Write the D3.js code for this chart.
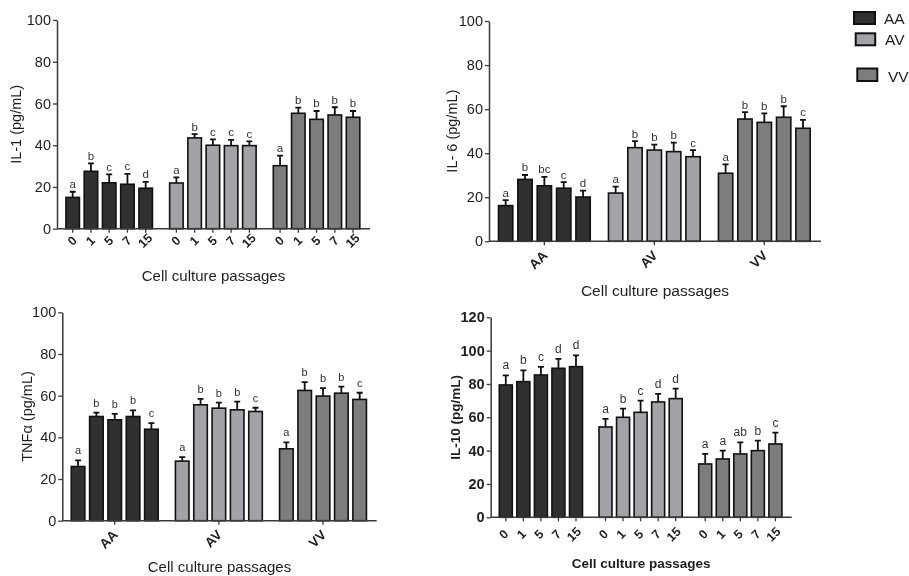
<!DOCTYPE html>
<html>
<head>
<meta charset="utf-8">
<script src="https://cdn.jsdelivr.net/npm/d3@7"></script>
<style>
  html, body { margin: 0; padding: 0; background: #fff; }
  svg { display: block; font-family: "Liberation Sans", Arial, Helvetica, sans-serif; will-change: transform; }
</style>
</head>
<body>
<svg id="chart" width="909" height="576"></svg>
<script>
// ---- data ---------------------------------------------------------------
const groups = ["AA", "AV", "VV"];
const passages = ["0", "1", "5", "7", "15"];
const groupColors = ["#303030", "#a3a3a7", "#7d7d7d"];

const ticks100 = [0, 20, 40, 60, 80, 100];
const ticks120 = [0, 20, 40, 60, 80, 100, 120];

// IL-1 (pg/mL): mean, SD (upper bar), significance letters; rows = AA, AV, VV
const il1Mean = [[15.0, 27.5, 22.0, 21.3, 19.4], [21.9, 43.5, 40.0, 39.8, 39.8], [30.2, 55.3, 52.4, 54.5, 53.4]];
const il1Err  = [[2.7, 3.8, 4.0, 5.0, 3.0], [2.7, 1.8, 2.8, 2.8, 2.0], [4.8, 2.7, 4.0, 3.7, 3.0]];
const il1Letters = [["a", "b", "c", "c", "d"], ["a", "b", "c", "c", "c"], ["a", "b", "b", "b", "b"]];

// IL-6 (pg/mL)
const il6Mean = [[16.2, 28.1, 25.2, 24.1, 20.1], [21.9, 42.5, 41.4, 40.7, 38.4], [30.9, 55.5, 54.0, 56.3, 51.3]];
const il6Err  = [[2.5, 2.0, 4.0, 2.8, 2.9], [2.9, 3.0, 2.5, 4.1, 3.0], [4.0, 3.1, 4.1, 5.0, 3.8]];
const il6Letters = [["a", "b", "bc", "c", "d"], ["a", "b", "b", "b", "c"], ["a", "b", "b", "b", "c"]];

// TNFα (pg/mL)
const tnfMean = [[26.0, 50.0, 48.4, 50.0, 43.9], [28.6, 55.6, 54.0, 53.2, 52.4], [34.5, 62.5, 59.8, 61.2, 58.2]];
const tnfErr  = [[2.9, 1.9, 2.9, 2.9, 2.9], [1.9, 2.9, 2.7, 3.9, 1.8], [3.1, 4.0, 3.8, 3.1, 3.2]];
const tnfLetters = [["a", "b", "b", "b", "c"], ["a", "b", "b", "b", "c"], ["a", "b", "b", "b", "c"]];

// IL-10 (pg/mL)
const il10Mean = [[79.4, 81.4, 85.4, 89.4, 90.4], [54.2, 60.0, 63.0, 69.2, 71.2], [32.0, 35.0, 38.0, 40.0, 44.0]];
const il10Err  = [[5.8, 6.8, 4.8, 5.6, 6.8], [4.8, 5.2, 7.0, 4.8, 6.0], [6.0, 5.0, 7.0, 6.0, 6.8]];
const il10Letters = [["a", "b", "c", "d", "d"], ["a", "b", "c", "d", "d"], ["a", "a", "ab", "b", "c"]];

// ---- panel layout -------------------------------------------------------
const panels = [
  { mean: il1Mean, err: il1Err, letters: il1Letters, yMax: 100, yTicks: ticks100,
    yTitle: "IL-1 (pg/mL)", xTitle: "Cell culture passages", xMode: "passages", bold: false,
    x0: 57, x1: 370, yTop: 20, yBase: 228.7, yTitleX: 16, xTitleY: 280.5, xTitleSize: 15,
    letterGap: 3.5, letterSize: 11.5, labelDx: 2.5, labelDy: 15 },
  { mean: il6Mean, err: il6Err, letters: il6Letters, yMax: 100, yTicks: ticks100,
    yTitle: "IL- 6 (pg/mL)", xTitle: "Cell culture passages", xMode: "groups", bold: false,
    x0: 489, x1: 821, yTop: 21, yBase: 241.3, yTitleX: 451.7, xTitleY: 295.5, xTitleSize: 15.5,
    letterGap: 3.5, letterSize: 11.5, labelDx: 4, labelDy: 15 },
  { mean: tnfMean, err: tnfErr, letters: tnfLetters, yMax: 100, yTicks: ticks100,
    yTitle: "TNFα (pg/mL)", xTitle: "Cell culture passages", xMode: "groups", bold: false,
    x0: 62.3, x1: 376.7, yTop: 312.3, yBase: 520.7, yTitleX: 26.7, xTitleY: 572, xTitleSize: 15,
    letterGap: 6, letterSize: 11, labelDx: 4, labelDy: 15 },
  { mean: il10Mean, err: il10Err, letters: il10Letters, yMax: 120, yTicks: ticks120,
    yTitle: "IL-10 (pg/mL)", xTitle: "Cell culture passages", xMode: "passages", bold: true,
    x0: 490.7, x1: 791.7, yTop: 317.3, yBase: 517.3, yTitleX: 455, xTitleY: 567.5, xTitleSize: 13.5,
    letterGap: 6, letterSize: 12, labelDx: 1, labelDy: 20 }
];

const ink = "#1e1e1e";
const axisInk = "#3a3a3a";
const svg = d3.select("#chart");

panels.forEach(p => {
  const g = svg.append("g");
  const w = p.x1 - p.x0;

  const xGroup = d3.scaleBand().domain(groups)
    .range([p.x0 + 0.021 * w, p.x0 + 0.975 * w])
    .paddingInner(0.12).paddingOuter(0);
  const xBar = d3.scaleBand().domain(passages)
    .range([0, xGroup.bandwidth()])
    .paddingInner(0.26).paddingOuter(0.13);
  const y = d3.scaleLinear().domain([0, p.yMax]).range([p.yBase, p.yTop]);

  const rows = [];
  groups.forEach((grp, gi) => passages.forEach((ps, pi) => {
    rows.push({ grp, gi, ps, v: p.mean[gi][pi], e: p.err[gi][pi], l: p.letters[gi][pi] });
  }));
  const cx = d => xGroup(d.grp) + xBar(d.ps) + xBar.bandwidth() / 2;

  // bars
  g.selectAll("rect.bar").data(rows).join("rect")
    .attr("class", "bar")
    .attr("x", d => xGroup(d.grp) + xBar(d.ps))
    .attr("width", xBar.bandwidth())
    .attr("y", d => y(d.v))
    .attr("height", d => y(0) - y(d.v))
    .attr("fill", d => groupColors[d.gi])
    .attr("stroke", "#111")
    .attr("stroke-width", 1.6);

  // upper error bars
  g.selectAll("path.err").data(rows).join("path")
    .attr("class", "err")
    .attr("d", d => `M${cx(d)},${y(d.v)}V${y(d.v + d.e)}M${cx(d) - 3},${y(d.v + d.e)}H${cx(d) + 3}`)
    .attr("fill", "none")
    .attr("stroke", "#111")
    .attr("stroke-width", 1.8);

  // significance letters
  g.selectAll("text.sig").data(rows).join("text")
    .attr("class", "sig")
    .attr("x", cx)
    .attr("y", d => y(d.v + d.e) - p.letterGap)
    .attr("text-anchor", "middle")
    .attr("font-size", p.letterSize)
    .attr("fill", "#333")
    .text(d => d.l);

  // y axis
  const yAxis = g.append("g")
    .attr("transform", `translate(${p.x0},0)`)
    .call(d3.axisLeft(y).tickValues(p.yTicks).tickSize(4).tickPadding(2).tickSizeOuter(0));
  yAxis.select(".domain").attr("stroke", axisInk).attr("stroke-width", 1.5);
  yAxis.selectAll(".tick line").attr("stroke", axisInk).attr("stroke-width", 1.3);
  yAxis.selectAll(".tick text")
    .attr("font-size", 14.5)
    .attr("font-family", "Liberation Sans, Arial, sans-serif")
    .attr("font-weight", p.bold ? "bold" : "normal")
    .attr("fill", ink);

  // x axis baseline
  g.append("line")
    .attr("x1", p.x0).attr("x2", p.x1)
    .attr("y1", y(0)).attr("y2", y(0))
    .attr("stroke", axisInk).attr("stroke-width", 1.5);

  if (p.xMode === "passages") {
    // one tick per bar, passage number rotated beneath it
    groups.forEach(grp => {
      const ax = g.append("g")
        .attr("transform", `translate(${xGroup(grp)},${y(0)})`)
        .call(d3.axisBottom(xBar).tickSize(4).tickSizeOuter(0).tickFormat(""));
      ax.select(".domain").remove();
      ax.selectAll(".tick line").attr("stroke", axisInk).attr("stroke-width", 1.3);
    });
    g.selectAll("text.passage").data(rows).join("text")
      .attr("class", "passage")
      .attr("transform", d => `translate(${cx(d) + p.labelDx},${y(0) + p.labelDy}) rotate(-45)`)
      .attr("text-anchor", "middle")
      .attr("font-size", 12.5)
      .attr("font-weight", "bold")
      .attr("fill", ink)
      .text(d => d.ps);
  } else {
    const ax = g.append("g")
      .attr("transform", `translate(0,${y(0)})`)
      .call(d3.axisBottom(xGroup).tickSize(4).tickSizeOuter(0).tickFormat(""));
    ax.select(".domain").remove();
    ax.selectAll(".tick line").attr("stroke", axisInk).attr("stroke-width", 1.3);
    g.selectAll("text.group").data(groups).join("text")
      .attr("class", "group")
      .attr("transform", d => `translate(${xGroup(d) + xGroup.bandwidth() / 2 + p.labelDx},${y(0) + p.labelDy}) rotate(-45)`)
      .attr("text-anchor", "end")
      .attr("font-size", 13.5)
      .attr("font-weight", "bold")
      .attr("fill", ink)
      .text(d => d);
  }

  // axis titles
  g.append("text")
    .attr("transform", `translate(${p.yTitleX},${(p.yTop + p.yBase) / 2}) rotate(-90)`)
    .attr("text-anchor", "middle")
    .attr("dy", "0.35em")
    .attr("font-size", p.bold ? 13.5 : 14.5)
    .attr("font-weight", p.bold ? "bold" : "normal")
    .attr("fill", ink)
    .text(p.yTitle);

  g.append("text")
    .attr("x", (p.x0 + p.x1) / 2)
    .attr("y", p.xTitleY)
    .attr("text-anchor", "middle")
    .attr("font-size", p.xTitleSize)
    .attr("font-weight", p.bold ? "bold" : "normal")
    .attr("fill", ink)
    .text(p.xTitle);
});

// ---- legend -------------------------------------------------------------
const legendBoxes = [
  { x: 854, y: 12, w: 21, h: 12, tx: 884, ty: 24 },
  { x: 855.7, y: 33.3, w: 19.5, h: 12, tx: 885, ty: 45.3 },
  { x: 857.3, y: 68.5, w: 20, h: 12.5, tx: 888, ty: 81.5 }
];
const legend = svg.append("g");
groups.forEach((grp, i) => {
  const b = legendBoxes[i];
  legend.append("rect")
    .attr("x", b.x).attr("y", b.y).attr("width", b.w).attr("height", b.h)
    .attr("fill", groupColors[i]).attr("stroke", "#111").attr("stroke-width", 2);
  legend.append("text")
    .attr("x", b.tx).attr("y", b.ty)
    .attr("font-size", 15.5)
    .attr("fill", ink)
    .text(grp);
});
</script>
</body>
</html>
